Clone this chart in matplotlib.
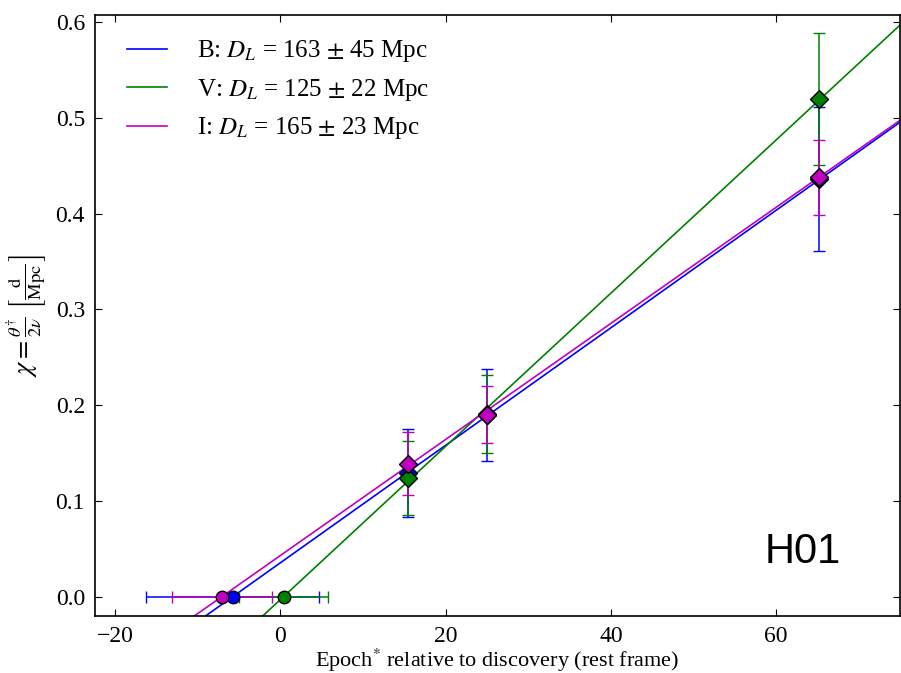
import numpy as np
import matplotlib
matplotlib.use("Agg")
import matplotlib.pyplot as plt

plt.rcParams['font.family'] = ['Liberation Serif', 'DejaVu Serif']
plt.rcParams['mathtext.fontset'] = 'stix'

# fitted distances per band, and zero crossing (epoch where chi = 0)
bands = ['B', 'V', 'I']
colors = ['b', 'g', 'm']
dist = [163, 125, 165]
dist_err = [45, 22, 23]
t0 = [-5.78, 0.37, -7.1]
t0_err = [10.47, 5.4, 6.04]

# measured chi at each epoch
epochs = [15.4, 25.0, 65.2]
chi_B = [0.129, 0.190, 0.436]
err_B = [0.046, 0.048, 0.0755]
chi_V = [0.124, 0.191, 0.520]
err_V = [0.039, 0.041, 0.069]
chi_I = [0.139, 0.190, 0.438]
err_I = [0.0325, 0.030, 0.039]

chis = [chi_B, chi_V, chi_I]
errs = [err_B, err_V, err_I]

fig = plt.figure(figsize=(9.01, 6.73), dpi=100)
ax = fig.add_axes([0.105, 0.085, 0.894, 0.892])
ax.set_xlim(-22.5, 75)
ax.set_ylim(-0.02, 0.607)

xx = np.array(ax.get_xlim()) + np.array([-5, 5])
for i in range(3):
    c = colors[i]
    lab = r'%s: $D_L$ = %d $\pm$ %d Mpc' % (bands[i], dist[i], dist_err[i])
    ax.plot(xx, (xx - t0[i]) / dist[i], color=c, lw=1.2, label=lab)
for i in range(3):
    c = colors[i]
    ax.errorbar(epochs, chis[i], yerr=errs[i], fmt='D', color=c, mfc=c,
                mec='k', ms=9, mew=1, capsize=4, lw=1.1)
    ax.errorbar([t0[i]], [0], xerr=[t0_err[i]], fmt='o', color=c, mfc=c,
                mec='k', ms=9, mew=1, capsize=4, lw=1.1)

ax.set_xlim(-22.5, 75)
ax.set_ylim(-0.02, 0.607)
ax.set_xticks([-20, 0, 20, 40, 60])
ax.set_yticks([0.0, 0.1, 0.2, 0.3, 0.4, 0.5, 0.6])
ax.yaxis.set_major_formatter(matplotlib.ticker.FormatStrFormatter('%.1f'))
ax.tick_params(direction='in', top=True, right=True, length=5, labelsize=17, pad=7)
for s in ax.spines.values():
    s.set_linewidth(1.2)

ax.set_xlabel(r'Epoch$^{*}$ relative to discovery (rest frame)', fontsize=16,
              labelpad=0)
ax.set_ylabel(r'$\chi = \frac{\theta^{\dagger}}{2\nu}\ \left[\frac{\rm d}{\rm Mpc}\right]$',
              fontsize=19)
ax.yaxis.set_label_coords(-0.057, 0.5)

ax.legend(loc='upper left', bbox_to_anchor=(0, 1.016), frameon=False,
          fontsize=18, handlelength=1.6, handletextpad=1.2, labelspacing=0.5,
          borderaxespad=0.9)

ax.text(0.926, 0.106, 'H01', transform=ax.transAxes, ha='right', va='center',
        fontsize=30, family='Liberation Sans')

fig.savefig('out.png', dpi=100)
